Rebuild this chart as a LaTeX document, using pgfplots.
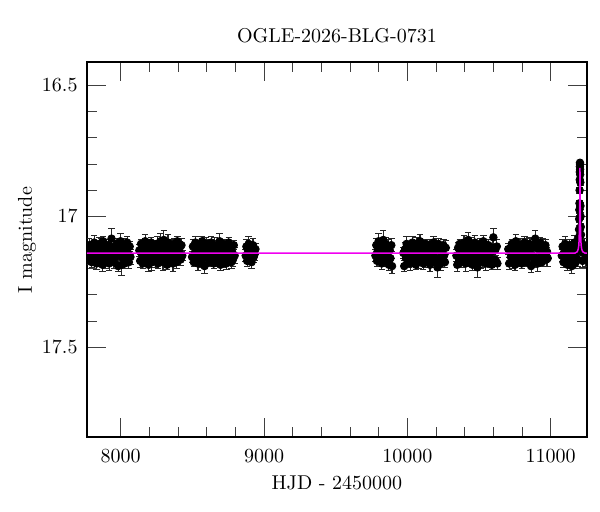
\documentclass[border=0pt]{standalone}
\usepackage{pgfplots}
\usepackage{pgfplotstable}
\pgfplotsset{compat=1.18}

\pgfplotstableread{
x y e
7775 17.150 0.020
7781 17.110 0.026
7787 17.165 0.018
7792 17.135 0.030
7798 17.175 0.022
7804 17.120 0.024
7809 17.140 0.020
7815 17.100 0.026
7821 17.160 0.018
7827 17.125 0.030
7832 17.180 0.022
7838 17.130 0.024
7844 17.155 0.020
7850 17.105 0.026
7855 17.170 0.018
7861 17.115 0.030
7867 17.145 0.022
7873 17.185 0.024
7878 17.095 0.020
7884 17.150 0.026
7890 17.120 0.018
7896 17.170 0.030
7901 17.135 0.022
7907 17.160 0.024
7913 17.110 0.020
7919 17.180 0.026
7924 17.125 0.018
7930 17.140 0.030
7936 17.085 0.040
7942 17.165 0.024
7947 17.130 0.020
7953 17.175 0.026
7959 17.115 0.018
7965 17.155 0.030
7970 17.105 0.022
7976 17.145 0.024
7982 17.190 0.020
7988 17.120 0.026
7993 17.150 0.018
7999 17.095 0.030
8005 17.185 0.040
8011 17.135 0.024
8016 17.160 0.020
8022 17.110 0.026
8028 17.180 0.018
8034 17.125 0.030
8039 17.165 0.022
8045 17.100 0.024
8051 17.140 0.020
8057 17.175 0.026
8063 17.115 0.018
8068 17.155 0.030
}\seasonA

\pgfplotstableread{
x y e
8130 17.130 0.022
8136 17.170 0.026
8142 17.105 0.018
8148 17.145 0.030
8154 17.180 0.020
8160 17.120 0.024
8165 17.155 0.022
8171 17.095 0.026
8177 17.165 0.018
8183 17.140 0.030
8189 17.110 0.020
8195 17.185 0.024
8201 17.135 0.022
8207 17.160 0.026
8212 17.100 0.018
8218 17.175 0.030
8224 17.125 0.020
8230 17.150 0.024
8236 17.115 0.022
8242 17.170 0.026
8248 17.145 0.018
8254 17.105 0.030
8259 17.180 0.020
8265 17.130 0.024
8271 17.160 0.022
8277 17.095 0.030
8283 17.155 0.026
8289 17.120 0.018
8295 17.175 0.030
8301 17.090 0.035
8306 17.110 0.024
8312 17.165 0.022
8318 17.135 0.026
8324 17.185 0.018
8330 17.100 0.030
8336 17.150 0.020
8342 17.125 0.024
8348 17.170 0.022
8353 17.115 0.026
8359 17.145 0.018
8365 17.180 0.030
8371 17.105 0.020
8377 17.160 0.024
8383 17.130 0.022
8389 17.175 0.026
8395 17.095 0.018
8400 17.155 0.030
8406 17.140 0.020
8412 17.120 0.024
8418 17.165 0.022
8424 17.110 0.026
8430 17.150 0.018
}\seasonB

\pgfplotstableread{
x y e
8498 17.155 0.020
8504 17.115 0.026
8510 17.175 0.018
8516 17.140 0.030
8521 17.100 0.022
8527 17.165 0.024
8533 17.125 0.020
8539 17.180 0.026
8545 17.110 0.018
8550 17.160 0.030
8556 17.135 0.022
8562 17.170 0.024
8568 17.095 0.020
8574 17.150 0.026
8580 17.120 0.018
8585 17.190 0.030
8591 17.145 0.022
8597 17.105 0.024
8603 17.155 0.020
8609 17.115 0.026
8614 17.175 0.018
8620 17.130 0.030
8626 17.165 0.022
8632 17.100 0.024
8638 17.140 0.020
8644 17.125 0.026
8649 17.180 0.018
8655 17.110 0.030
8661 17.160 0.022
8667 17.135 0.024
8673 17.170 0.020
8678 17.120 0.026
8684 17.150 0.018
8690 17.095 0.030
8696 17.185 0.022
8702 17.145 0.024
8708 17.115 0.020
8713 17.170 0.026
8719 17.105 0.018
8725 17.155 0.030
8731 17.130 0.022
8737 17.180 0.024
8742 17.125 0.020
8748 17.160 0.026
8754 17.100 0.018
8760 17.140 0.030
8766 17.120 0.022
8772 17.175 0.024
8777 17.135 0.020
8783 17.165 0.026
8789 17.110 0.018
8795 17.150 0.030
}\seasonC

\pgfplotstableread{
x y e
8872 17.150 0.022
8877 17.115 0.026
8882 17.170 0.020
8888 17.130 0.024
8893 17.105 0.030
8898 17.160 0.022
8903 17.140 0.026
8908 17.120 0.020
8913 17.175 0.024
8918 17.135 0.022
8923 17.110 0.026
8928 17.155 0.020
8934 17.145 0.024
8940 17.125 0.022
}\seasonD

\pgfplotstableread{
x y e
9777 17.150 0.022
9783 17.110 0.026
9788 17.170 0.020
9794 17.130 0.024
9799 17.095 0.030
9805 17.160 0.022
9810 17.140 0.026
9816 17.115 0.020
9821 17.180 0.024
9827 17.125 0.022
9832 17.090 0.035
9838 17.155 0.020
9843 17.135 0.024
9849 17.105 0.026
9854 17.170 0.022
9860 17.145 0.020
9866 17.120 0.030
9871 17.185 0.022
9877 17.130 0.024
9882 17.160 0.020
9888 17.110 0.026
9893 17.190 0.030
}\seasonE

\pgfplotstableread{
x y e
9972 17.140 0.022
9978 17.190 0.020
9984 17.125 0.026
9990 17.160 0.018
9995 17.105 0.030
10001 17.145 0.022
10007 17.170 0.024
10013 17.115 0.020
10019 17.180 0.026
10024 17.135 0.018
10030 17.155 0.030
10036 17.100 0.022
10042 17.165 0.024
10048 17.140 0.020
10053 17.120 0.026
10059 17.185 0.018
10065 17.110 0.030
10071 17.150 0.022
10077 17.175 0.024
10082 17.130 0.020
10088 17.095 0.026
10094 17.160 0.018
10100 17.145 0.030
10106 17.115 0.022
10111 17.180 0.024
10117 17.125 0.020
10123 17.170 0.026
10129 17.105 0.018
10135 17.140 0.030
10140 17.165 0.022
10146 17.135 0.024
10152 17.110 0.020
10158 17.185 0.026
10164 17.150 0.018
10169 17.120 0.030
10175 17.175 0.022
10181 17.100 0.024
10187 17.155 0.020
10193 17.130 0.026
10198 17.170 0.018
10204 17.115 0.030
10210 17.195 0.040
10216 17.105 0.022
10222 17.160 0.024
10227 17.125 0.020
10233 17.180 0.026
10239 17.135 0.018
10245 17.165 0.030
10251 17.110 0.022
10256 17.150 0.024
10262 17.175 0.020
10268 17.120 0.026
}\seasonF

\pgfplotstableread{
x y e
10342 17.150 0.022
10348 17.185 0.024
10354 17.120 0.020
10360 17.165 0.026
10365 17.105 0.018
10371 17.145 0.030
10377 17.175 0.022
10383 17.130 0.024
10389 17.160 0.020
10395 17.100 0.026
10401 17.140 0.018
10407 17.180 0.030
10412 17.115 0.022
10418 17.155 0.024
10424 17.090 0.030
10430 17.170 0.020
10436 17.125 0.026
10442 17.150 0.018
10448 17.110 0.030
10454 17.185 0.022
10459 17.135 0.024
10465 17.160 0.020
10471 17.100 0.026
10477 17.170 0.018
10483 17.140 0.030
10489 17.195 0.040
10495 17.120 0.022
10501 17.155 0.024
10506 17.105 0.020
10512 17.175 0.026
10518 17.130 0.018
10524 17.165 0.030
10530 17.095 0.022
10536 17.145 0.024
10542 17.115 0.020
10548 17.180 0.026
10553 17.125 0.018
10559 17.160 0.030
10565 17.110 0.022
10571 17.150 0.024
10577 17.175 0.020
10583 17.135 0.026
10589 17.185 0.018
10595 17.120 0.030
10600 17.080 0.035
10606 17.165 0.022
10612 17.130 0.024
10618 17.170 0.020
10624 17.115 0.026
10628 17.180 0.022
}\seasonG

\pgfplotstableread{
x y e
10704 17.125 0.022
10710 17.180 0.024
10716 17.130 0.020
10722 17.155 0.026
10728 17.105 0.018
10734 17.170 0.030
10739 17.115 0.022
10745 17.145 0.024
10751 17.185 0.020
10757 17.095 0.026
10763 17.150 0.018
10769 17.120 0.030
10775 17.170 0.022
10781 17.135 0.024
10786 17.160 0.020
10792 17.110 0.026
10798 17.180 0.018
10804 17.125 0.030
10810 17.140 0.022
10816 17.100 0.024
10822 17.165 0.020
10828 17.130 0.026
10833 17.175 0.018
10839 17.115 0.030
10845 17.155 0.022
10851 17.105 0.024
10857 17.145 0.020
10863 17.190 0.026
10869 17.120 0.018
10875 17.150 0.030
10880 17.110 0.022
10886 17.170 0.024
10892 17.085 0.032
10898 17.160 0.026
10904 17.110 0.018
10910 17.180 0.030
10916 17.125 0.022
10922 17.165 0.024
10927 17.100 0.020
10933 17.140 0.026
10939 17.175 0.018
10945 17.115 0.030
10951 17.155 0.022
10957 17.150 0.024
10963 17.110 0.020
10969 17.165 0.026
10974 17.135 0.018
10979 17.160 0.030
}\seasonH

\pgfplotstableread{
x y e
11077 17.150 0.022
11083 17.115 0.026
11089 17.175 0.020
11095 17.135 0.024
11100 17.105 0.030
11106 17.165 0.022
11112 17.125 0.026
11118 17.185 0.020
11124 17.145 0.024
11130 17.110 0.022
11135 17.170 0.026
11141 17.130 0.020
11147 17.190 0.030
11153 17.120 0.024
11159 17.155 0.022
11165 17.100 0.026
11170 17.180 0.020
11176 17.140 0.024
11182 17.115 0.022
11188 17.165 0.026
11192 17.130 0.020
11195 17.100 0.015
11196.5 17.080 0.015
11197.5 17.050 0.014
11198.5 17.010 0.014
11199.5 16.975 0.013
11200.5 16.950 0.012
11201.5 16.900 0.012
11202.5 16.860 0.011
11203 16.830 0.010
11203.5 16.810 0.010
11204 16.795 0.010
11204.5 16.800 0.010
11205 16.820 0.010
11205.5 16.840 0.011
11206.5 16.870 0.011
11207.5 16.960 0.012
11208.5 17.000 0.013
11209.5 17.040 0.014
11211 17.070 0.015
11213 17.100 0.016
11216 17.125 0.022
11222 17.170 0.026
11228 17.140 0.020
11234 17.110 0.024
11240 17.160 0.030
11246 17.135 0.022
}\seasonI

\definecolor{model}{RGB}{240,0,240}

\pgfplotsset{
  pts/.style={
    only marks, mark=*, mark size=1.9pt, black,
    error bars/y dir=both, error bars/y explicit,
    error bars/error bar style={line width=0.55pt, black!85},
    error bars/error mark options={rotate=90, mark size=1.6pt, line width=0.5pt, black!85}
  }
}

\begin{document}
\begin{tikzpicture}
\begin{axis}[
  name=ax,
  scale only axis,
  width=250pt, height=187.5pt,
  xmin=7765, xmax=11253,
  ymin=16.41, ymax=17.843,
  y dir=reverse,
  clip marker paths=true,
  xtick={8000,9000,10000,11000},
  minor x tick num=4,
  ytick={16.5,17,17.5},
  minor y tick num=4,
  scaled x ticks=false,
  xticklabel style={/pgf/number format/1000 sep={}, yshift=-3pt},
  yticklabel style={xshift=-1.2pt},
  tick align=inside,
  major tick length=9.5pt,
  minor tick length=5pt,
  every tick/.style={black!75, line width=0.5pt},
  axis line style={line width=0.6pt},
  title={OGLE-2026-BLG-0731},
  title style={at={(0.5,1)}, anchor=south, yshift=0.2pt},
  xlabel={HJD - 2450000},
  xlabel style={at={(axis description cs:0.5,0)}, anchor=center, yshift=-22.8pt},
  ylabel={I magnitude},
  ylabel style={at={(axis description cs:-0.12,0.525)}, anchor=center},
]
\addplot[pts] table[x=x, y=y, y error=e] {\seasonA};
\addplot[pts] table[x=x, y=y, y error=e] {\seasonB};
\addplot[pts] table[x=x, y=y, y error=e] {\seasonC};
\addplot[pts] table[x=x, y=y, y error=e] {\seasonD};
\addplot[pts] table[x=x, y=y, y error=e] {\seasonE};
\addplot[pts] table[x=x, y=y, y error=e] {\seasonF};
\addplot[pts] table[x=x, y=y, y error=e] {\seasonG};
\addplot[pts] table[x=x, y=y, y error=e] {\seasonH};
\addplot[pts] table[x=x, y=y, y error=e] {\seasonI};
\addplot[model, line width=0.75pt, no marks, sharp plot] coordinates {
  (7765,17.14) (11170,17.14) (11185,17.135) (11192,17.125) (11196,17.11)
  (11198,17.09) (11200,17.05) (11201,17.02) (11202,16.97) (11203,16.90)
  (11204,16.815) (11205,16.90) (11206,16.97) (11207,17.02) (11208,17.05)
  (11210,17.09) (11212,17.11) (11216,17.125) (11223,17.135) (11238,17.14)
  (11253,17.14)
};
\end{axis}
\pgfresetboundingbox
\path[use as bounding box] (ax.south west) ++(-43.5pt,-37.5pt) rectangle ++(300pt,256pt);
\end{tikzpicture}
\end{document}
